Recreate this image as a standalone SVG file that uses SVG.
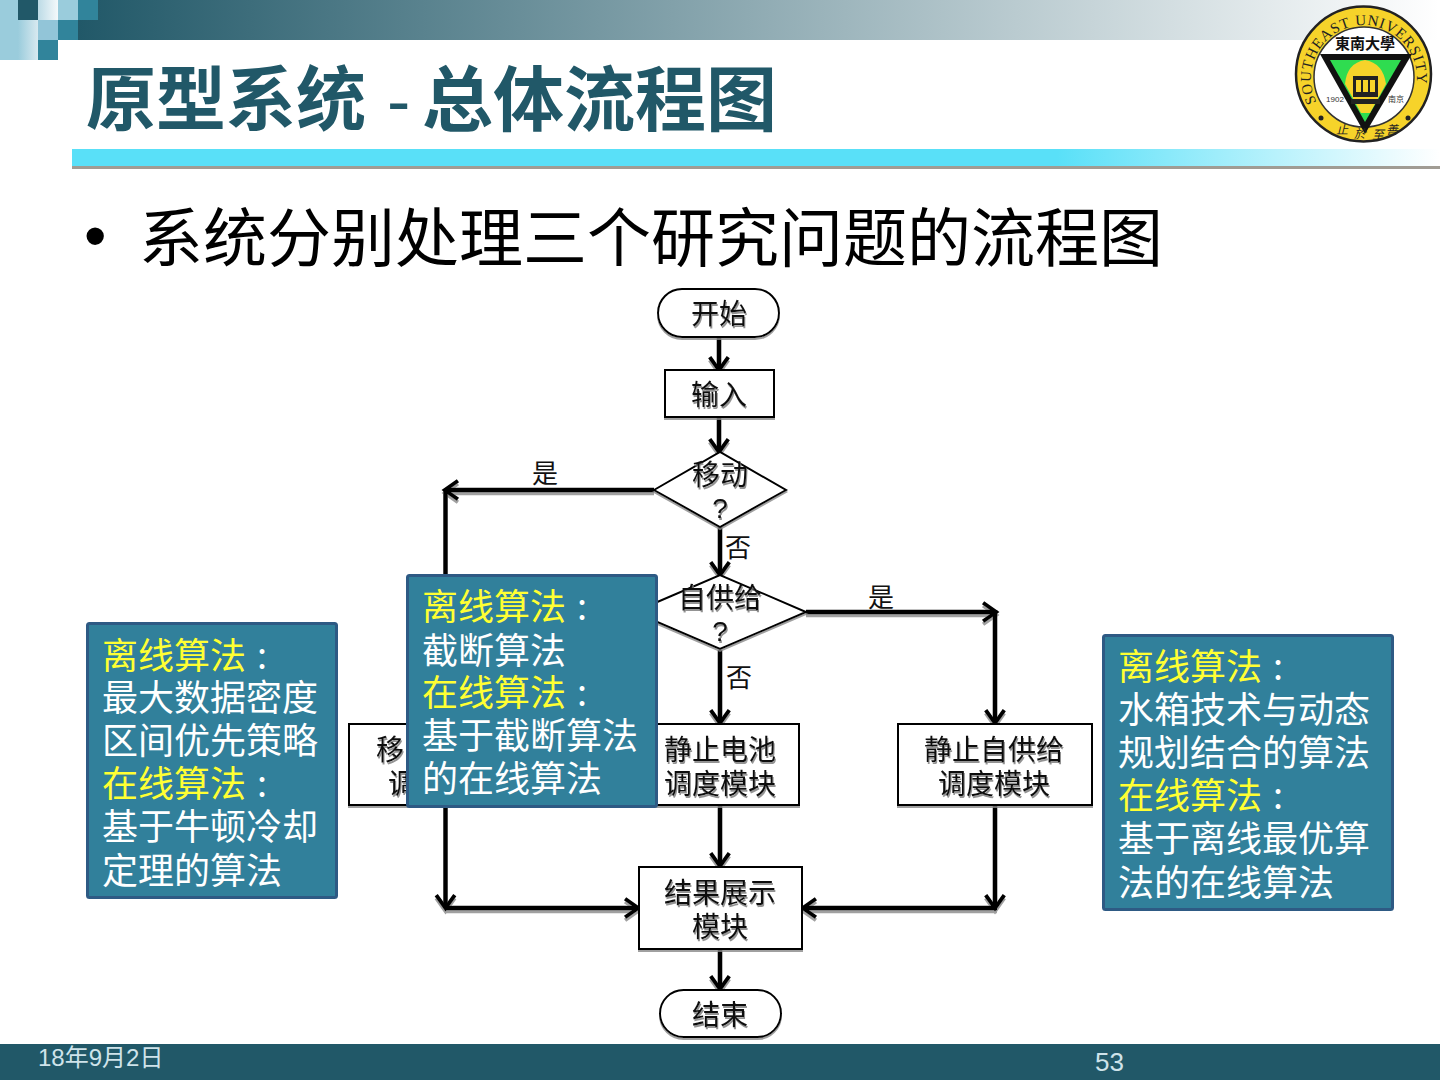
<svg xmlns="http://www.w3.org/2000/svg" xmlns:xlink="http://www.w3.org/1999/xlink" width="1440" height="1080" viewBox="0 0 1440 1080">
<style>
text{font-family:"Noto Sans CJK SC","Liberation Sans",sans-serif}
.lat{font-family:"Liberation Sans","Noto Sans CJK SC",sans-serif}
.ser{font-family:"Liberation Serif",serif}
.fn{font-size:28px;text-anchor:middle;fill:#111;filter:url(#ts)}
.lb{font-size:26px;text-anchor:middle;fill:#111}
.box{fill:#fff;stroke:#000;stroke-width:2;filter:url(#bs)}
.con{fill:none;stroke:#000;stroke-width:4.5}
.arr{marker-end:url(#v)}
.call{fill:#31809b;stroke:#2e5a84;stroke-width:3}
.ct{font-size:36px;fill:#fff}
.y{fill:#ffff33}
</style>
<defs>
<linearGradient id="hd"><stop offset="0" stop-color="#215868"/><stop offset="1" stop-color="#215868" stop-opacity="0"/></linearGradient>
<linearGradient id="cy"><stop offset="0" stop-color="#59e0f8"/><stop offset=".72" stop-color="#59e0f8"/><stop offset="1" stop-color="#fff"/></linearGradient>
<linearGradient id="lt"><stop offset="0" stop-color="#9accdc"/><stop offset="1" stop-color="#d8e9f0"/></linearGradient>
<linearGradient id="wh"><stop offset="0" stop-color="#bcdbe6"/><stop offset="1" stop-color="#f4f9fb"/></linearGradient>
<filter id="ts" x="-10%" y="-10%" width="120%" height="130%"><feDropShadow dx="1" dy="2" stdDeviation=".4" flood-color="#777" flood-opacity=".8"/></filter>
<filter id="bs" x="-5%" y="-5%" width="110%" height="115%"><feDropShadow dx="0" dy="2" stdDeviation=".6" flood-color="#888" flood-opacity=".8"/></filter>
<filter id="cs" filterUnits="userSpaceOnUse" x="300" y="280" width="800" height="760"><feDropShadow dx="0" dy="3" stdDeviation=".5" flood-color="#777" flood-opacity=".7"/></filter>
<marker id="v" markerUnits="userSpaceOnUse" markerWidth="24" markerHeight="24" refX="14" refY="10" orient="auto" viewBox="0 0 22 20"><path d="M4 1.500 16 10 4 18.500" fill="none" stroke="#000" stroke-width="3.500"/></marker>
<path id="tp1" d="M1316.700 102A53 53 0 1 1 1411.300 102"/>
</defs>

<g id="header">
<rect x="78" y="0" width="1362" height="40" fill="url(#hd)"/>
<rect x="0" y="0" width="98" height="20" fill="#fff"/>
<rect x="0" y="0" width="18" height="60" fill="#9accdc"/>
<rect x="18" y="20" width="20" height="40" fill="url(#lt)"/>
<rect x="18" y="0" width="20" height="20" fill="#215868"/>
<rect x="38" y="0" width="20" height="20" fill="url(#wh)"/>
<rect x="58" y="0" width="20" height="20" fill="#9accdc"/>
<rect x="78" y="0" width="20" height="20" fill="#31849b"/>
<rect x="38" y="20" width="20" height="20" fill="#92c5d8"/>
<rect x="58" y="20" width="20" height="20" fill="#31849b"/>
<rect x="38" y="40" width="20" height="20" fill="#31849b"/>
<rect x="72" y="149" width="1368" height="17" fill="url(#cy)"/>
<rect x="72" y="166" width="1368" height="3" fill="#a09c94"/>
<text x="86" y="125" font-size="70" font-weight="700" fill="#215868">原型系统</text>
<text x="387" y="125" font-size="70" fill="#215868" class="lat">-</text>
<text x="422" y="125" font-size="71" font-weight="700" fill="#215868">总体流程图</text>
</g>

<g id="logo">
<circle cx="1363.500" cy="74" r="67.500" fill="#f6d32a" stroke="#222" stroke-width="2.500"/>
<circle cx="1364" cy="77" r="50" fill="#fff" stroke="#333" stroke-width="1.500"/>
<path d="M1320 54H1412L1365 134Z" fill="#111"/>
<path d="M1330 60H1401L1365 122Z" fill="#2fdc50"/>
<path d="M1345 84Q1347 63 1365 60Q1383 63 1386 84L1370 113H1361Z" fill="#f6d32a"/>
<path d="M1353 76H1378V97H1353ZM1351 99H1380V104H1351Z" fill="#222"/>
<path d="M1356 80H1361V92H1356ZM1363 80H1368V92H1363ZM1370 80H1375V92H1370Z" fill="#f6d32a"/>
<circle cx="1321" cy="118" r="2.500" fill="#222"/><circle cx="1408" cy="118" r="2.500" fill="#222"/>
<text font-size="15" fill="#222" class="ser" letter-spacing=".8"><textPath xlink:href="#tp1" href="#tp1" startOffset="0">SOUTHEAST UNIVERSITY</textPath></text>
<text x="1365" y="49" font-size="15" text-anchor="middle" fill="#111" font-weight="700">東南大學</text>
<text x="1335" y="102" font-size="8" text-anchor="middle" fill="#333" class="lat">1902</text>
<text x="1396" y="102" font-size="8" text-anchor="middle" fill="#333">南京</text>
<text font-size="12" fill="#222" font-style="italic"><tspan x="1336" y="134">止</tspan><tspan x="1354" y="138">於</tspan><tspan x="1372" y="139">至</tspan><tspan x="1386" y="134">善</tspan></text>
</g>

<g id="bullet">
<text x="84" y="258" font-size="64" class="lat" fill="#000">•</text>
<text x="139" y="261" font-size="64" fill="#000">系统分别处理三个研究问题的流程图</text>
</g>

<g id="connectors" filter="url(#cs)">
<path class="con arr" d="M719 337V368"/>
<path class="con arr" d="M719 418V450"/>
<path class="con arr" d="M654 490H447"/>
<path class="con" d="M445.500 490V575"/>
<path class="con arr" d="M720 526V573"/>
<path class="con arr" d="M806 612H994"/>
<path class="con arr" d="M995 610V721"/>
<path class="con arr" d="M720 650V721"/>
<path class="con arr" d="M445.500 806V906"/>
<path class="con arr" d="M445 908H636"/>
<path class="con arr" d="M720 806V864"/>
<path class="con arr" d="M995 806V906"/>
<path class="con arr" d="M997 908H805"/>
<path class="con arr" d="M720 949V987"/>
</g>

<g id="n-start"><rect class="box" x="658" y="289" width="121" height="48" rx="24"/><text class="fn" x="719" y="324">开始</text></g>
<g id="n-input"><rect class="box" x="665" y="370" width="109" height="47"/><text class="fn" x="719" y="405">输入</text></g>
<g id="n-move"><path class="box" d="M654 490 720 452 786 490 720 527Z"/><text class="fn" x="720" y="485">移动</text><text class="fn lat" x="720" y="518">?</text></g>
<g id="n-self"><path class="box" d="M634 612 720 575 806 612 720 649Z"/><text class="fn" x="720" y="608">自供给</text><text class="fn lat" x="720" y="641">?</text></g>
<g id="n-mobile"><rect class="box" x="349" y="724" width="195" height="81"/><text class="fn" x="390" y="760">移</text><text class="fn" x="402" y="794">调</text></g>
<g id="n-static"><rect class="box" x="641" y="724" width="158" height="81"/><text class="fn" x="720" y="760">静止电池</text><text class="fn" x="720" y="794">调度模块</text></g>
<g id="n-staticself"><rect class="box" x="898" y="724" width="194" height="81"/><text class="fn" x="994" y="760">静止自供给</text><text class="fn" x="994" y="794">调度模块</text></g>
<g id="n-result"><rect class="box" x="639" y="867" width="163" height="82"/><text class="fn" x="720" y="903">结果展示</text><text class="fn" x="720" y="937">模块</text></g>
<g id="n-end"><rect class="box" x="660" y="990" width="121" height="47" rx="23.500"/><text class="fn" x="720" y="1025">结束</text></g>

<g id="labels">
<text class="lb" x="545" y="483">是</text>
<text class="lb" x="738" y="557">否</text>
<text class="lb" x="881" y="607">是</text>
<text class="lb" x="739" y="687">否</text>
</g>

<g id="callout-left"><rect class="call" x="87.500" y="623.500" width="249" height="274" rx="2"/>
<text class="ct"><tspan class="y" x="102" y="669">离线算法</tspan><tspan dx="3"> :</tspan><tspan x="102" y="711">最大数据密度</tspan><tspan x="102" y="754">区间优先策略</tspan><tspan class="y" x="102" y="797">在线算法</tspan><tspan dx="3"> :</tspan><tspan x="102" y="840">基于牛顿冷却</tspan><tspan x="102" y="884">定理的算法</tspan></text></g>

<g id="callout-mid"><rect class="call" x="407.500" y="575.500" width="249" height="231" rx="2"/>
<text class="ct"><tspan class="y" x="422" y="620">离线算法</tspan><tspan dx="3"> :</tspan><tspan x="422" y="664">截断算法</tspan><tspan class="y" x="422" y="706">在线算法</tspan><tspan dx="3"> :</tspan><tspan x="422" y="749">基于截断算法</tspan><tspan x="422" y="792">的在线算法</tspan></text></g>

<g id="callout-right"><rect class="call" x="1103.500" y="635.500" width="289" height="274" rx="2"/>
<text class="ct"><tspan class="y" x="1118" y="680">离线算法</tspan><tspan dx="3"> :</tspan><tspan x="1118" y="723">水箱技术与动态</tspan><tspan x="1118" y="766">规划结合的算法</tspan><tspan class="y" x="1118" y="809">在线算法</tspan><tspan dx="3"> :</tspan><tspan x="1118" y="852">基于离线最优算</tspan><tspan x="1118" y="896">法的在线算法</tspan></text></g>

<g id="footer">
<rect x="0" y="1044" width="1440" height="36" fill="#215868"/>
<text x="38" y="1066" font-size="24" fill="#cfe3ea" class="lat">18年9月2日</text>
<text x="1095" y="1071" font-size="26" fill="#cfe3ea" class="lat">53</text>
</g>
</svg>
